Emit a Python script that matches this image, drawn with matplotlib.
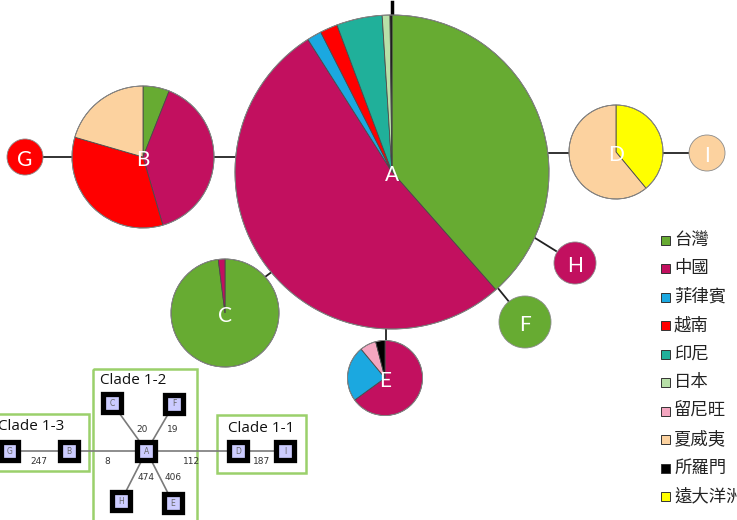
import matplotlib
matplotlib.use("Agg")
import matplotlib.pyplot as plt
from matplotlib.patches import Wedge, Rectangle

plt.rcParams['font.family'] = ['Noto Sans CJK TC', 'DejaVu Sans']

# --- data -------------------------------------------------------------
regions = ['台灣', '中國', '菲律賓', '越南', '印尼', '日本', '留尼旺', '夏威夷', '所羅門', '遠大洋洲']
region_colors = ['#67AB32', '#C2105F', '#1BA8E0', '#FF0000', '#20B09A',
                 '#B8E0A8', '#F4A6C0', '#FCD29F', '#000000', '#FFFF00']

# share (%) of each region in a haplotype, listed clockwise from 12 o'clock
hap_A = [('台灣', 38.5), ('中國', 52.5), ('菲律賓', 1.5), ('越南', 1.8),
         ('印尼', 4.7), ('日本', 0.8), ('所羅門', 0.2)]
hap_B = [('台灣', 6.0), ('中國', 39.5), ('越南', 34.0), ('夏威夷', 20.5)]
hap_C = [('台灣', 98.0), ('中國', 2.0)]
hap_D = [('遠大洋洲', 39.0), ('夏威夷', 61.0)]
hap_E = [('中國', 65.0), ('菲律賓', 24.0), ('留尼旺', 7.0), ('所羅門', 4.0)]
hap_F = [('台灣', 100.0)]
hap_G = [('越南', 100.0)]
hap_H = [('中國', 100.0)]
hap_I = [('夏威夷', 100.0)]

# mutation steps shown in the clade inset
clade_names = ['Clade 1-3', 'Clade 1-2', 'Clade 1-1']
step_labels = ['247', '8', '112', '187', '20', '19', '474', '406']

# --- layout (pixel coords, y down) --------------------------------------
nodes = {
    'A': ((392, 172), 157, hap_A),
    'B': ((143, 157), 71, hap_B),
    'C': ((225, 313), 54, hap_C),
    'D': ((616, 152), 47, hap_D),
    'E': ((385, 378), 37.5, hap_E),
    'F': ((525, 322), 26, hap_F),
    'G': ((25, 157), 18, hap_G),
    'H': ((575, 263), 21, hap_H),
    'I': ((707, 153), 18, hap_I),
}
links = [((43, 157), (72, 157)), ((214, 157), (236, 157)),
         ((549, 153), (569, 153)), ((663, 153), (689, 153)),
         ((535, 238), (556, 251)), ((497, 287), (510, 303)),
         ((265, 277), (273, 271)), ((386, 328), (386, 341)),
         ((392, 2), (392, 17))]

fig = plt.figure(figsize=(7.37, 5.20), dpi=100)
ax = fig.add_axes([0, 0, 1, 1])
ax.set_xlim(0, 737)
ax.set_ylim(520, 0)
ax.axis('off')

color_of = dict(zip(regions, region_colors))

for (x1, y1), (x2, y2) in links:
    lw = 2.5 if y1 < 5 else 1.3
    ax.plot([x1, x2], [y1, y2], color='#222222' if lw < 2 else 'black', lw=lw, zorder=1)


def draw_pie(center, radius, shares):
    start = -90.0  # y axis is inverted: -90 is 12 o'clock, increasing goes clockwise
    for name, val in shares:
        sweep = 360.0 * val / 100.0
        ec = 'none' if len(shares) == 1 else '#4a4a4a'
        ax.add_patch(Wedge(center, radius, start, start + sweep,
                           facecolor=color_of[name], edgecolor=ec, lw=0.6, zorder=2))
        start += sweep
    # outline
    ax.add_patch(Wedge(center, radius, 0, 360, facecolor='none',
                       edgecolor='#8a8a8a', lw=0.6, zorder=3))


for name, (center, radius, shares) in nodes.items():
    draw_pie(center, radius, shares)
    ax.text(center[0], center[1] + 3, name, color='white', fontsize=15,
            family=['Lato', 'DejaVu Sans'], ha='center', va='center', zorder=4)

# legend
for i, (name, col) in enumerate(zip(regions, region_colors)):
    y = 240 + i * 28.5
    ax.add_patch(Rectangle((661, y - 4.5), 9, 9, facecolor=col,
                           edgecolor='#333333', lw=0.7, zorder=3))
    ax.text(674, y, name, fontsize=12.5, color='#222222', va='center', ha='left')

# --- clade inset ---------------------------------------------------------
box_green = '#9BD06B'
boxes = [(-5, 414, 94, 57), (93, 369, 104, 160), (217, 415, 89, 58)]
title_pos = [(-2, 427), (100, 381), (228, 428)]
for (bx, by, bw, bh), nm, (tx, ty) in zip(boxes, clade_names, title_pos):
    ax.add_patch(Rectangle((bx, by), bw, bh, facecolor='none',
                           edgecolor=box_green, lw=1.8, zorder=1))
    ax.text(tx, ty, nm, fontsize=11, family=['Open Sans', 'DejaVu Sans'],
            color='#111111', ha='left', va='center')

sq = {'G': (9.5, 451), 'B': (69, 451), 'A': (146.5, 451), 'D': (238, 451),
      'I': (285, 451), 'C': (112, 403), 'F': (174, 404), 'H': (121, 501),
      'E': (173, 503)}
edges = [('G', 'I'), ('A', 'C'), ('A', 'F'), ('A', 'H'), ('A', 'E')]
for a, b in edges:
    ax.plot([sq[a][0], sq[b][0]], [sq[a][1], sq[b][1]], color='#7a7a7a', lw=1.2, zorder=2)
for nm, (x, y) in sq.items():
    ax.add_patch(Rectangle((x - 9, y - 9), 18, 18, facecolor='#CCCCFF',
                           edgecolor='black', lw=3.8, zorder=3))
    ax.text(x, y, nm, fontsize=5.5, color='#666666', ha='center', va='center', zorder=4,
            family=['DejaVu Sans'])

step_pos = [(39, 461), (107, 461), (192, 461), (262, 461),
            (142, 429), (173, 429), (146, 478), (173, 478)]
for lab, (x, y) in zip(step_labels, step_pos):
    ax.text(x, y, lab, fontsize=6.5, color='#333333', ha='center', va='center',
            family=['DejaVu Sans'], zorder=4)

fig.savefig('out.png', dpi=100)
